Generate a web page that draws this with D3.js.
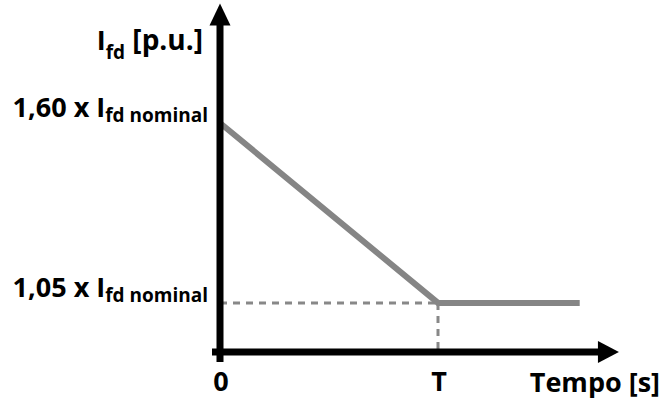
<!DOCTYPE html>
<html>
<head>
<meta charset="utf-8">
<script src="https://cdn.jsdelivr.net/npm/d3@7"></script>
<style>
  body { margin: 0; background: #fff; }
  svg { display: block; }
  text { font-family: "Open Sans", Lato, sans-serif; font-weight: bold; fill: #000; }
</style>
</head>
<body>
<div id="chart"></div>
<script>
// Current limit curve (schematic), T normalised to 1
const times = [0, 1, 1.65];
const values = [1.60, 1.05, 1.05];
const tickTimes = [0, 1];
const tickTimeLabels = ["0", "T"];
const levelValues = [1.60, 1.05];
const levelLabels = ["1,60 x I", "1,05 x I"];
const axisTitleX = "Tempo [s]";

const width = 665;
const height = 401;

const svg = d3.select("#chart")
  .append("svg")
  .attr("width", width)
  .attr("height", height);

const x = d3.scaleLinear().domain([0, 1]).range([220, 438]);
const y = d3.scaleLinear().domain([0.9, 1.6]).range([352, 123]);

const xEnd = x(1.83);
const yTop = y(1.965);
const x0 = x(0), y0 = y(0.9);

// Dashed guides to the knee point
const knee = { t: times[1], v: values[1] };
svg.append("line")
  .attr("x1", x0).attr("y1", y(knee.v))
  .attr("x2", x(knee.t)).attr("y2", y(knee.v))
  .style("stroke", "#888").style("stroke-width", 3).style("stroke-dasharray", "7,6");
svg.append("line")
  .attr("x1", x(knee.t)).attr("y1", y(knee.v))
  .attr("x2", x(knee.t)).attr("y2", y0)
  .style("stroke", "#888").style("stroke-width", 3).style("stroke-dasharray", "7,6");

// Curve
const line = d3.line()
  .x((d, i) => x(times[i]))
  .y(d => y(d));
svg.append("path")
  .datum(values)
  .attr("d", line)
  .style("fill", "none")
  .style("stroke", "#858585")
  .style("stroke-width", 6)
  .style("stroke-linejoin", "miter");

// Axes
svg.append("line")
  .attr("x1", x0).attr("y1", y0 + 10)
  .attr("x2", x0).attr("y2", yTop + 18)
  .style("stroke", "#000").style("stroke-width", 7);
svg.append("path")
  .attr("d", `M${x0 - 10.5},${yTop + 22} L${x0},${yTop} L${x0 + 10.5},${yTop + 22} Z`)
  .style("fill", "#000");

svg.append("line")
  .attr("x1", x0 - 8).attr("y1", y0)
  .attr("x2", xEnd - 18).attr("y2", y0)
  .style("stroke", "#000").style("stroke-width", 7);
svg.append("path")
  .attr("d", `M${xEnd - 21},${y0 - 11} L${xEnd},${y0} L${xEnd - 21},${y0 + 11} Z`)
  .style("fill", "#000");

// Time tick labels
svg.selectAll(".tlab")
  .data(tickTimes)
  .enter().append("text")
  .attr("x", d => x(d) + 1)
  .attr("y", 391)
  .attr("text-anchor", "middle")
  .style("font-size", "27px")
  .text((d, i) => tickTimeLabels[i]);

svg.append("text")
  .attr("x", 660)
  .attr("y", 392)
  .attr("text-anchor", "end")
  .style("font-size", "27px")
  .text(axisTitleX);

// Level labels with subscripts
levelValues.forEach((v, i) => {
  const t = svg.append("text")
    .attr("x", 208)
    .attr("y", y(v) - 6)
    .attr("text-anchor", "end")
    .style("font-size", "27px");
  t.append("tspan").text(levelLabels[i]);
  t.append("tspan")
    .attr("dy", 5)
    .style("font-size", "19px")
    .text("fd nominal");
});

// Y axis title
const yt = svg.append("text")
  .attr("x", 203)
  .attr("y", 50)
  .attr("text-anchor", "end")
  .style("font-size", "27px");
yt.append("tspan").text("I");
yt.append("tspan").attr("dy", 9).style("font-size", "19px").text("fd");
yt.append("tspan").attr("dy", -9).style("font-size", "28px").text(" [p.u.]");
</script>
</body>
</html>
